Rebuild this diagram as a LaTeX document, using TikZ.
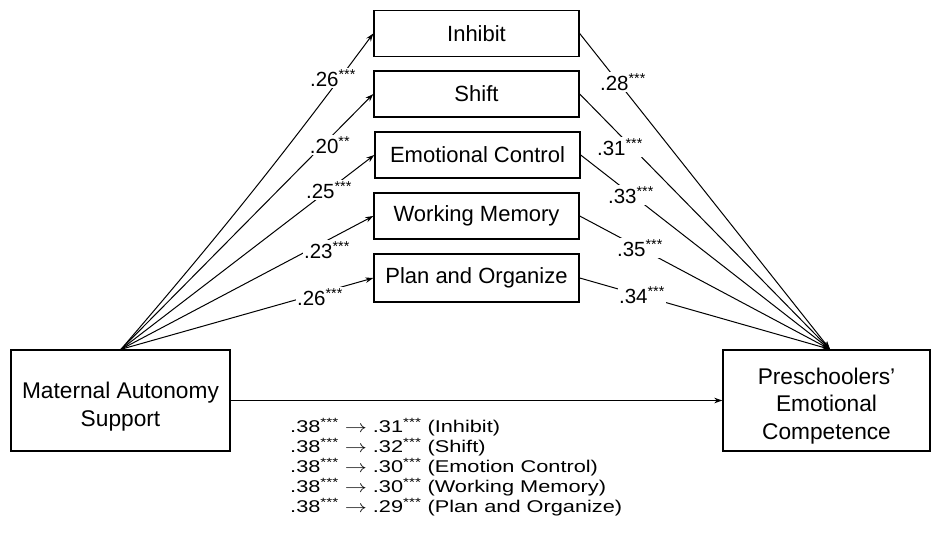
\documentclass[tikz,border=0pt]{standalone}
\usepackage{fontspec}
\setmainfont{Liberation Sans}
\newfontfamily\widefont[FakeStretch=1.28]{Liberation Sans}
\usetikzlibrary{arrows.meta}
\newcommand\sigst[1]{\textsuperscript{#1}}
\newcommand\longarr{\scalebox{1.28}[1]{$\rightarrow$}}
\begin{document}
\begin{tikzpicture}[x=1pt,y=-1pt,
  medbox/.style={draw, line width=1.4pt, minimum width=205pt, minimum height=46pt, inner sep=0pt, font=\fontsize{22}{26}\selectfont},
  bigbox/.style={draw, line width=1.4pt, inner sep=0pt, align=center, minimum height=101pt, font=\fontsize{22.7}{27.5}\selectfont},
  conn/.style={line width=1pt, -{Stealth[length=8pt,width=5.5pt]}},
  coef/.style={fill=white, inner sep=1.5pt, font=\fontsize{20.5}{20}\selectfont},
  effline/.style={anchor=base west, inner sep=0pt, font=\widefont\fontsize{17}{20}\selectfont}
]
\useasboundingbox (0,0) rectangle (931,541);
\fill[white] (0,0) rectangle (931,541);

% main boxes
\node[bigbox, minimum width=219pt] (mas) at (120.5,400.5) {\rule{0pt}{29pt}Maternal Autonomy\\Support};
\node[bigbox, minimum width=207pt] (pec) at (826.5,400.5) {\rule{0pt}{27pt}Preschoolers’\\Emotional\\Competence};

% mediators
\node[medbox] (inh) at (476.5,33.5) {Inhibit};
\node[medbox] (shf) at (476.5,94) {Shift};
\node[medbox] (emo) at (477.5,155) {Emotional Control};
\node[medbox] (wm)  at (476.5,216) {Working Memory};
\node[medbox, minimum height=48pt] (pla) at (476.5,278) {Plan and Organize};

\coordinate (srcTop) at ([xshift=0.5pt]mas.north);
\coordinate (dstTop) at ([xshift=3.5pt]pec.north);

% a paths
\draw[conn] (srcTop) to[bend right=2] (inh.west);
\draw[conn] (srcTop) -- (shf.west);
\draw[conn] (srcTop) -- (emo.west);
\draw[conn] (srcTop) -- (wm.west);
\draw[conn] (srcTop) -- (pla.west);

% b paths
\draw[conn] (inh.east) -- (dstTop);
\draw[conn] (shf.east) -- (dstTop);
\draw[conn] (emo.east) -- (dstTop);
\draw[conn] (wm.east) -- (dstTop);
\draw[conn] (pla.east) -- (dstTop);

% direct path
\draw[conn] (mas.east) -- (pec.west);

% coefficients a
\node[coef] (a1) at (333,78) {.26\sigst{***}};
\node[coef] (a2) at (330,145) {.20\sigst{**}};
\node[coef] (a3) at (329,190) {.25\sigst{***}};
\node[coef] (a4) at (327,250) {.23\sigst{***}};
\node[coef] (a5) at (320,297) {.26\sigst{***}};

% coefficients b
\node[coef] (b1) at (623,82) {.28\sigst{***}};
\node[coef] (b2) at (620,147) {.31\sigst{***}};
\node[coef] (b3) at (631,195) {.33\sigst{***}};
\node[coef] (b4) at (640,248) {.35\sigst{***}};
\node[coef] (b5) at (642,295) {.34\sigst{***}};

% direct / indirect effects
\node[effline] (e1) at (290,432.5) {.38\sigst{***} \longarr{} .31\sigst{***} (Inhibit)};
\node[effline] (e2) at (290,452.5) {.38\sigst{***} \longarr{} .32\sigst{***} (Shift)};
\node[effline] (e3) at (290,472.5) {.38\sigst{***} \longarr{} .30\sigst{***} (Emotion Control)};
\node[effline] (e4) at (290,492.5) {.38\sigst{***} \longarr{} .30\sigst{***} (Working Memory)};
\node[effline] (e5) at (290,512.5) {.38\sigst{***} \longarr{} .29\sigst{***} (Plan and Organize)};
\end{tikzpicture}
\end{document}
